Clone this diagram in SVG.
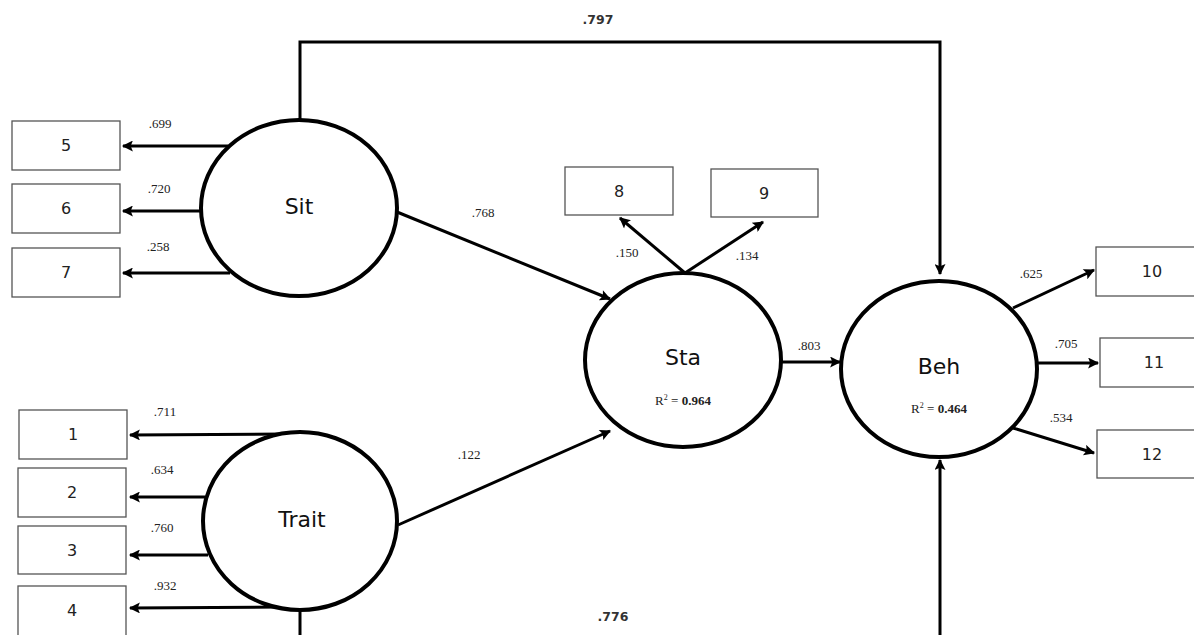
<svg xmlns="http://www.w3.org/2000/svg" width="1194" height="635" viewBox="0 0 1194 635">
<style>
.box{fill:#fff;stroke:#555;stroke-width:1.3}
.lat{fill:#fff;stroke:#000;stroke-width:4}
.bn{font-family:"DejaVu Sans",sans-serif;font-size:16px;fill:#222;text-anchor:middle}
.ln{font-family:"DejaVu Sans",sans-serif;font-size:22px;fill:#111;text-anchor:middle}
.w{font-family:"Liberation Serif",serif;font-size:13px;fill:#222;text-anchor:middle}
.ws{font-family:"DejaVu Sans",sans-serif;font-size:12.5px;font-weight:bold;fill:#333;text-anchor:middle}
.r2{font-family:"Liberation Serif",serif;font-size:13px;fill:#222;text-anchor:middle}
.c{fill:none;stroke:#000;stroke-width:3}
</style>
<defs>
<marker id="ah" viewBox="0 0 10 10" refX="9" refY="5" markerWidth="13" markerHeight="11" markerUnits="userSpaceOnUse" orient="auto">
<path d="M0,0 L10,5 L0,10 L2,5 Z" fill="#000"/>
</marker>
</defs>
<rect width="1194" height="635" fill="#fff"/>
<g id="connectors">
<polyline class="c" points="300,120 300,42 940,42 940,274" marker-end="url(#ah)"/>
<polyline class="c" points="300,610 300,640"/>
<polyline class="c" points="940,640 940,460" marker-end="url(#ah)"/>
<line class="c" x1="228" y1="146" x2="123" y2="146" marker-end="url(#ah)"/>
<line class="c" x1="201" y1="211" x2="123" y2="211" marker-end="url(#ah)"/>
<line class="c" x1="230" y1="273" x2="123" y2="273" marker-end="url(#ah)"/>
<line class="c" x1="283" y1="434" x2="130" y2="435" marker-end="url(#ah)"/>
<line class="c" x1="205" y1="497" x2="130" y2="497" marker-end="url(#ah)"/>
<line class="c" x1="208" y1="555" x2="130" y2="555" marker-end="url(#ah)"/>
<line class="c" x1="280" y1="607" x2="130" y2="608" marker-end="url(#ah)"/>
<line class="c" x1="397" y1="212" x2="610" y2="299" marker-end="url(#ah)"/>
<line class="c" x1="398" y1="525" x2="610" y2="431" marker-end="url(#ah)"/>
<line class="c" x1="685" y1="273" x2="620" y2="218" marker-end="url(#ah)"/>
<line class="c" x1="685" y1="273" x2="763" y2="222" marker-end="url(#ah)"/>
<line class="c" x1="782" y1="362" x2="840" y2="362" marker-end="url(#ah)"/>
<line class="c" x1="1013" y1="308" x2="1094" y2="270" marker-end="url(#ah)"/>
<line class="c" x1="1037" y1="363" x2="1098" y2="363" marker-end="url(#ah)"/>
<line class="c" x1="1013" y1="428" x2="1094" y2="453" marker-end="url(#ah)"/>
<text class="ws" x="598" y="24">.797</text>
<text class="ws" x="613" y="621">.776</text>
<text class="w" x="160" y="128">.699</text>
<text class="w" x="159" y="193">.720</text>
<text class="w" x="158" y="251">.258</text>
<text class="w" x="165" y="416">.711</text>
<text class="w" x="162" y="474">.634</text>
<text class="w" x="162" y="532">.760</text>
<text class="w" x="165" y="590">.932</text>
<text class="w" x="483" y="217">.768</text>
<text class="w" x="469" y="459">.122</text>
<text class="w" x="627" y="257">.150</text>
<text class="w" x="747" y="260">.134</text>
<text class="w" x="809" y="350">.803</text>
<text class="w" x="1031" y="278">.625</text>
<text class="w" x="1066" y="348">.705</text>
<text class="w" x="1061" y="422">.534</text>
</g>
<g id="n5"><rect class="box" x="12" y="121" width="108" height="49"/><text class="bn" x="66" y="151">5</text></g>
<g id="n6"><rect class="box" x="12" y="184" width="108" height="49"/><text class="bn" x="66" y="214">6</text></g>
<g id="n7"><rect class="box" x="12" y="248" width="108" height="49"/><text class="bn" x="66" y="278">7</text></g>
<g id="n1"><rect class="box" x="19" y="410" width="108" height="49"/><text class="bn" x="73" y="440">1</text></g>
<g id="n2"><rect class="box" x="18" y="468" width="108" height="49"/><text class="bn" x="72" y="498">2</text></g>
<g id="n3"><rect class="box" x="18" y="526" width="108" height="48"/><text class="bn" x="72" y="556">3</text></g>
<g id="n4"><rect class="box" x="18" y="586" width="108" height="55"/><text class="bn" x="72" y="616">4</text></g>
<g id="n8"><rect class="box" x="565" y="167" width="108" height="48"/><text class="bn" x="619" y="197">8</text></g>
<g id="n9"><rect class="box" x="711" y="169" width="107" height="48"/><text class="bn" x="764" y="199">9</text></g>
<g id="n10"><rect class="box" x="1096" y="247" width="108" height="49"/><text class="bn" x="1152" y="277">10</text></g>
<g id="n11"><rect class="box" x="1100" y="338" width="108" height="49"/><text class="bn" x="1154" y="368">11</text></g>
<g id="n12"><rect class="box" x="1097" y="430" width="108" height="48"/><text class="bn" x="1152" y="460">12</text></g>
<g id="Sit"><ellipse class="lat" cx="299" cy="208" rx="98" ry="88"/><text class="ln" x="299" y="214">Sit</text></g>
<g id="Trait"><ellipse class="lat" cx="300" cy="521" rx="97" ry="89"/><text class="ln" x="302" y="527">Trait</text></g>
<g id="Sta"><ellipse class="lat" cx="683" cy="360" rx="98" ry="87"/><text class="ln" x="683" y="365">Sta</text>
<text class="r2" x="683" y="405">R<tspan font-size="8" dy="-5">2</tspan><tspan dy="5"> = </tspan><tspan font-weight="bold">0.964</tspan></text></g>
<g id="Beh"><ellipse class="lat" cx="939" cy="369" rx="98" ry="88"/><text class="ln" x="939" y="374">Beh</text>
<text class="r2" x="939" y="413">R<tspan font-size="8" dy="-5">2</tspan><tspan dy="5"> = </tspan><tspan font-weight="bold">0.464</tspan></text></g>
</svg>
